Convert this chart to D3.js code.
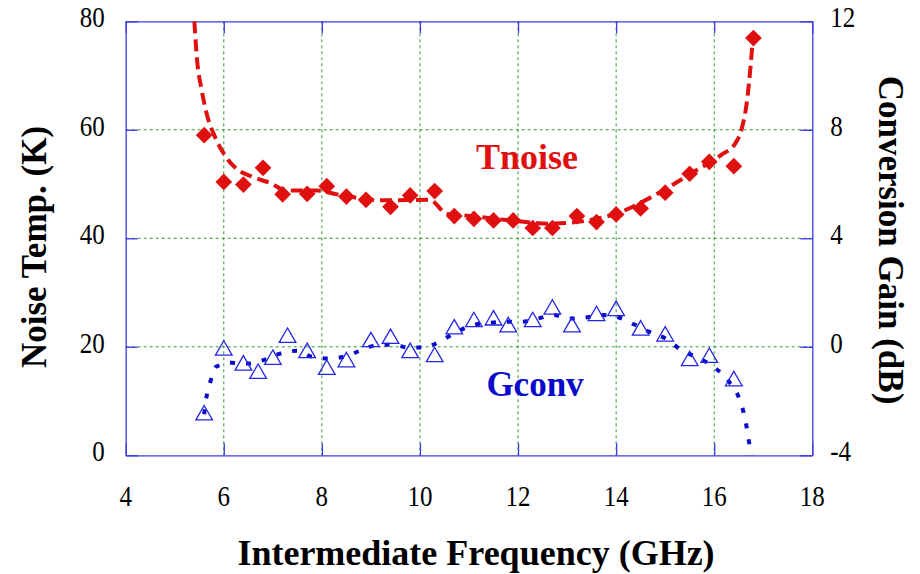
<!DOCTYPE html>
<html><head><meta charset="utf-8">
<script src="https://cdnjs.cloudflare.com/ajax/libs/d3/7.8.5/d3.min.js"></script></head>
<body style="margin:0">
<script>
// measured points
var freqT = [5.6, 6.0, 6.4, 6.8, 7.2, 7.7, 8.1, 8.5, 8.9, 9.4, 9.8, 10.3, 10.7, 11.1, 11.5, 11.9, 12.3, 12.7, 13.2, 13.6, 14.0, 14.5, 15.0, 15.5, 15.9, 16.4, 16.8];
var tnoise = [59.0, 50.4, 49.9, 53.0, 48.1, 48.2, 49.6, 47.7, 47.1, 45.8, 47.9, 48.7, 44.1, 43.6, 43.3, 43.3, 41.9, 41.9, 44.1, 43.0, 44.4, 45.5, 48.4, 51.9, 54.1, 53.3, 76.9];

var freqG = [5.6, 6.0, 6.4, 6.7, 7.0, 7.3, 7.7, 8.1, 8.5, 9.0, 9.4, 9.8, 10.3, 10.7, 11.1, 11.5, 11.8, 12.3, 12.7, 13.1, 13.6, 14.0, 14.5, 15.0, 15.5, 15.9, 16.4];
var gconv = [-2.52, -0.13, -0.68, -0.99, -0.47, 0.34, -0.22, -0.84, -0.56, 0.18, 0.30, -0.22, -0.37, 0.65, 0.92, 0.98, 0.73, 0.92, 1.38, 0.73, 1.14, 1.33, 0.61, 0.39, -0.52, -0.40, -1.26];

// fitted curves
var fitTx = [5.40, 5.45, 5.55, 5.65, 5.82, 6.0, 6.26, 6.6, 6.94, 7.29, 7.9, 8.31, 9.25, 10.2, 10.55, 10.82, 11.84, 12.66, 13.88, 14.84, 15.52, 16.13, 16.43, 16.57, 16.67, 16.74, 16.79];
var fitTy = [80, 73.4, 67.3, 63.0, 58.7, 55.6, 52.8, 51.3, 50.2, 48.8, 48.8, 48.1, 47.0, 47.1, 44.5, 44.3, 43.3, 42.7, 44.2, 48.2, 51.9, 55.3, 57.5, 60.5, 65.4, 71.6, 77.0];

var fitGx = [5.6, 5.64, 5.72, 5.84, 6.16, 6.5, 6.81, 7.15, 7.49, 7.8, 8.14, 8.48, 8.8, 9.11, 9.45, 9.77, 10.07, 10.43, 10.79, 11.08, 11.42, 11.74, 12.06, 12.4, 12.73, 13.04, 13.37, 13.71, 14.02, 14.36, 14.68, 15.04, 15.31, 15.69, 15.99, 16.32, 16.49, 16.6, 16.67, 16.72, 16.75];
var fitGy = [-2.49, -1.93, -1.33, -0.74, -0.59, -0.62, -0.49, -0.25, -0.15, -0.37, -0.43, -0.35, -0.13, 0.06, 0.08, -0.03, -0.03, 0.22, 0.59, 0.80, 0.88, 0.92, 0.92, 1.04, 1.17, 1.04, 1.08, 1.17, 1.10, 0.83, 0.55, 0.27, -0.10, -0.43, -0.74, -1.33, -1.81, -2.43, -3.05, -3.63, -4.0];

var xTicks = [4, 6, 8, 10, 12, 14, 16, 18];
var yLeftTicks = [0, 20, 40, 60, 80];
var yRightTicks = [-4, 0, 4, 8, 12];

const w = 920, h = 574;
const pLeft = 125.7, pRight = 812.3, pTop = 21.3, pBottom = 455.3;
const fontName = "'Liberation Serif'";

const frameColor = "#3a3ae0",
      gridColor = "#2e9a2e",
      red = "#e01010",
      blue = "#0a0acc";

const x = d3.scaleLinear().domain([4, 18]).range([pLeft, pRight]);
const yL = d3.scaleLinear().domain([0, 80]).range([pBottom, pTop]);
const yR = d3.scaleLinear().domain([-4, 12]).range([pBottom, pTop]);

const svg = d3.select("body").append("svg")
    .attr("width", w)
    .attr("height", h);

// grid
svg.append("g").selectAll("line")
    .data(xTicks.slice(1, -1))
    .enter().append("line")
    .attr("x1", d => x(d)).attr("x2", d => x(d))
    .attr("y1", pTop).attr("y2", pBottom)
    .attr("stroke", gridColor).attr("stroke-width", 1)
    .attr("stroke-dasharray", "3,3");

svg.append("g").selectAll("line")
    .data(yLeftTicks.slice(1, -1))
    .enter().append("line")
    .attr("x1", pLeft).attr("x2", pRight)
    .attr("y1", d => yL(d)).attr("y2", d => yL(d))
    .attr("stroke", gridColor).attr("stroke-width", 1)
    .attr("stroke-dasharray", "3,3");

// axes: inward ticks, labels drawn separately
function styleAxis(g) {
    g.attr("font-family", null);
    g.select(".domain").attr("stroke", frameColor).attr("stroke-width", 1.3);
    g.selectAll(".tick line").attr("stroke", frameColor).attr("stroke-width", 1.3);
    g.selectAll(".tick text").remove();
}

svg.append("g")
    .attr("transform", "translate(0," + pBottom + ")")
    .call(d3.axisBottom(x).tickValues(xTicks).tickSizeInner(-12).tickSizeOuter(0))
    .call(styleAxis);

svg.append("g")
    .attr("transform", "translate(0," + pTop + ")")
    .call(d3.axisTop(x).tickValues(xTicks).tickSizeInner(-12).tickSizeOuter(0))
    .call(styleAxis);

svg.append("g")
    .attr("transform", "translate(" + pLeft + ",0)")
    .call(d3.axisLeft(yL).tickValues(yLeftTicks).tickSizeInner(-12).tickSizeOuter(0))
    .call(styleAxis);

svg.append("g")
    .attr("transform", "translate(" + pRight + ",0)")
    .call(d3.axisRight(yR).tickValues(yRightTicks).tickSizeInner(-12).tickSizeOuter(0))
    .call(styleAxis);

// tick labels (the source font is a little taller than wide)
const tickFont = 25, stretch = 1.2;

svg.append("g").selectAll("text")
    .data(xTicks)
    .enter().append("text")
    .attr("transform", d => "translate(" + x(d) + "," + (pBottom + 51) + ") scale(1," + stretch + ")")
    .attr("text-anchor", "middle")
    .attr("font-family", fontName)
    .attr("font-size", tickFont)
    .text(d => d);

svg.append("g").selectAll("text")
    .data(yLeftTicks)
    .enter().append("text")
    .attr("transform", d => "translate(" + (pLeft - 21) + "," + (yL(d) + 6) + ") scale(1," + stretch + ")")
    .attr("text-anchor", "end")
    .attr("font-family", fontName)
    .attr("font-size", tickFont)
    .text(d => d);

svg.append("g").selectAll("text")
    .data(yRightTicks)
    .enter().append("text")
    .attr("transform", d => "translate(" + (pRight + 18) + "," + (yR(d) + 6) + ") scale(1," + stretch + ")")
    .attr("text-anchor", "start")
    .attr("font-family", fontName)
    .attr("font-size", tickFont)
    .text(d => d);

// Tnoise fit
const lineT = d3.line()
    .x(d => x(d[0])).y(d => yL(d[1]))
    .curve(d3.curveMonotoneX);

svg.append("path")
    .datum(fitTx.map((f, i) => [f, fitTy[i]]))
    .attr("d", lineT)
    .attr("fill", "none")
    .attr("stroke", red)
    .attr("stroke-width", 4)
    .attr("stroke-dasharray", "12,6");

// Gconv fit
const lineG = d3.line()
    .x(d => x(d[0])).y(d => yR(d[1]))
    .curve(d3.curveMonotoneX);

svg.append("path")
    .datum(fitGx.map((f, i) => [f, fitGy[i]]))
    .attr("d", lineG)
    .attr("fill", "none")
    .attr("stroke", blue)
    .attr("stroke-width", 4)
    .attr("stroke-dasharray", "5,11");

// diamonds
svg.append("g").selectAll("path")
    .data(freqT.map((f, i) => [f, tnoise[i]]))
    .enter().append("path")
    .attr("d", d3.symbol().type(d3.symbolSquare).size(140))
    .attr("transform", d => "translate(" + x(d[0]) + "," + yL(d[1]) + ") rotate(45)")
    .attr("fill", red);

// open triangles
svg.append("g").selectAll("path")
    .data(freqG.map((f, i) => [f, gconv[i]]))
    .enter().append("path")
    .attr("d", d3.symbol().type(d3.symbolTriangle).size(120))
    .attr("transform", d => "translate(" + x(d[0]) + "," + yR(d[1]) + ")")
    .attr("fill", "none")
    .attr("stroke", "#2424e6")
    .attr("stroke-width", 1.3);

// series labels and axis titles
var titles = [
    {t: "Tnoise", tr: "translate(527,169)", size: 36, fill: red},
    {t: "Gconv", tr: "translate(535,396)", size: 35, fill: blue},
    {t: "Intermediate Frequency (GHz)", tr: "translate(476,565)", size: 36, fill: "#000"},
    {t: "Noise Temp. (K)", tr: "translate(46,247) rotate(-90)", size: 35, fill: "#000"},
    {t: "Conversion Gain (dB)", tr: "translate(879,240) rotate(90)", size: 35, fill: "#000"}
];

svg.selectAll("text.title")
    .data(titles)
    .enter().append("text")
    .attr("class", "title")
    .attr("transform", d => d.tr)
    .attr("text-anchor", "middle")
    .attr("fill", d => d.fill)
    .attr("font-family", fontName)
    .attr("font-weight", "bold")
    .attr("font-size", d => d.size)
    .text(d => d.t);
</script>
</body></html>
